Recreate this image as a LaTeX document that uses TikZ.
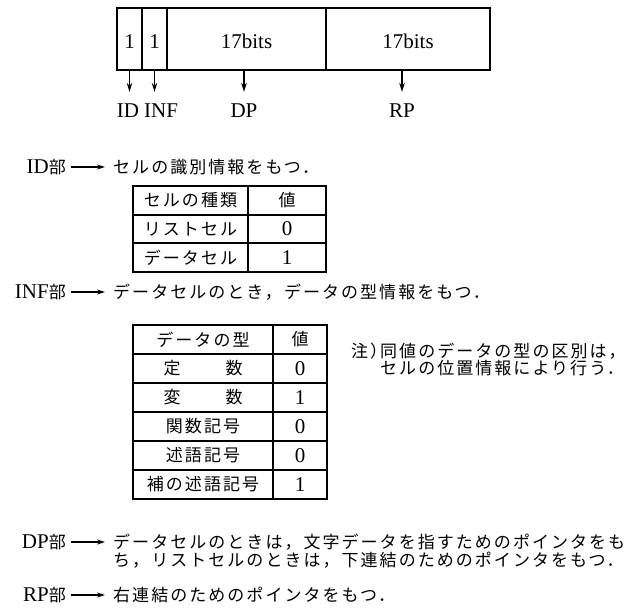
\documentclass[tikz,border=0pt]{standalone}
\usepackage{fontspec}
\setmainfont{Liberation Serif}
\newfontfamily\jpf[LetterSpace=12]{Noto Sans CJK JP}
\usetikzlibrary{arrows.meta}
\newcommand\bu{{\jpf\fontsize{17}{17}\selectfont 部}}
\tikzset{
  x=1pt,y=-1pt,
  lat/.style={font=\fontsize{21}{21}\selectfont, inner sep=0pt},
  jp/.style={font=\jpf\fontsize{17}{17}\selectfont, inner sep=0pt},
  cellbox/.style={draw, line width=2.2pt, minimum height=62pt, inner sep=0pt, text height=20pt, text depth=0pt, font=\fontsize{21}{21}\selectfont},
  arr/.style={line width=1.3pt, shorten >=12pt, -{Stealth[length=9pt,width=5.5pt]}},
  harr/.style={line width=1.2pt, shorten <=5pt, shorten >=8pt, -{Stealth[length=8pt,width=5pt]}},
  tbl/.style={line width=1.5pt},
}
\begin{document}
\begin{tikzpicture}
\useasboundingbox (0,0) rectangle (631,609);
% top word format
\node[cellbox, minimum width=25pt] (c1) at (129.5,39) {1};
\node[cellbox, minimum width=25pt] (c2) at (154.5,39) {1};
\node[cellbox, minimum width=159pt] (c3) at (246.5,39) {17bits};
\node[cellbox, minimum width=164pt] (c4) at (408,39) {17bits};
\node[lat] (lid) at (128,111) {ID};
\node[lat, anchor=west] (linf) at (144,111) {INF};
\node[lat] (ldp) at (244,111) {DP};
\node[lat] (lrp) at (402,111) {RP};
\draw[arr] (c1.south) -- (c1.south |- lid.north);
\draw[arr] (c2.south) -- (c2.south |- linf.north);
\draw[arr] (ldp |- c3.south) -- (ldp.north);
\draw[arr] (lrp |- c4.south) -- (lrp.north);
% ID section
\node[lat, anchor=east] (sid) at (66,167) {ID\bu};
\node[jp, anchor=west] (tid) at (113,167) {セルの識別情報をもつ．};
\draw[harr] (sid.east) -- (sid.east -| tid.west);
\draw[tbl] (133,186) rectangle (326,272);
\draw[tbl] (248,186) -- (248,272);
\draw[tbl] (133,215) -- (326,215);
\draw[tbl] (133,243) -- (326,243);
\node[jp] (t1a) at (190.5,200.5) {セルの種類};
\node[jp] (t1b) at (287,200.5) {値};
\node[jp] (t1c) at (190.5,229) {リストセル};
\node[lat] (t1d) at (287,229) {0};
\node[jp] (t1e) at (190.5,257.5) {データセル};
\node[lat] (t1f) at (287,257.5) {1};
% INF section
\node[lat, anchor=east] (sinf) at (66,292) {INF\bu};
\node[jp, anchor=west] (tinf) at (113,292) {データセルのとき，データの型情報をもつ．};
\draw[harr] (sinf.east) -- (sinf.east -| tinf.west);
\draw[tbl] (133,325) rectangle (327,499);
\draw[tbl] (273,325) -- (273,499);
\foreach \yy in {354,383,412,441,470} \draw[tbl] (133,\yy) -- (327,\yy);
\node[jp] (t2a) at (203,339.5) {データの型};
\node[jp] (t2b) at (300,339.5) {値};
\node[jp] (t2c) at (203,368.5) {定\hspace{45pt}数};
\node[lat] (t2d) at (300,368.5) {0};
\node[jp] (t2e) at (203,397.5) {変\hspace{45pt}数};
\node[lat] (t2f) at (300,397.5) {1};
\node[jp] (t2g) at (203,426.5) {関数記号};
\node[lat] (t2h) at (300,426.5) {0};
\node[jp] (t2i) at (203,455.5) {述語記号};
\node[lat] (t2j) at (300,455.5) {0};
\node[jp] (t2k) at (203,484.5) {補の述語記号};
\node[lat] (t2l) at (300,484.5) {1};
\node[jp, anchor=west] (n0) at (351,351) {注）};
\node[jp, anchor=west] (n1) at (380,351) {同値のデータの型の区別は，};
\node[jp, anchor=west] (n2) at (380,368) {セルの位置情報により行う．};
% DP section
\node[lat, anchor=east] (sdp) at (66,542) {DP\bu};
\node[jp, anchor=west] (tdp1) at (113,542) {データセルのときは，文字データを指すためのポインタをも};
\node[jp, anchor=west] (tdp2) at (113,560) {ち，リストセルのときは，下連結のためのポインタをもつ．};
\draw[harr] (sdp.east) -- (sdp.east -| tdp1.west);
% RP section
\node[lat, anchor=east] (srp) at (66,595) {RP\bu};
\node[jp, anchor=west] (trp) at (113,595) {右連結のためのポインタをもつ．};
\draw[harr] (srp.east) -- (srp.east -| trp.west);
\end{tikzpicture}
\end{document}
